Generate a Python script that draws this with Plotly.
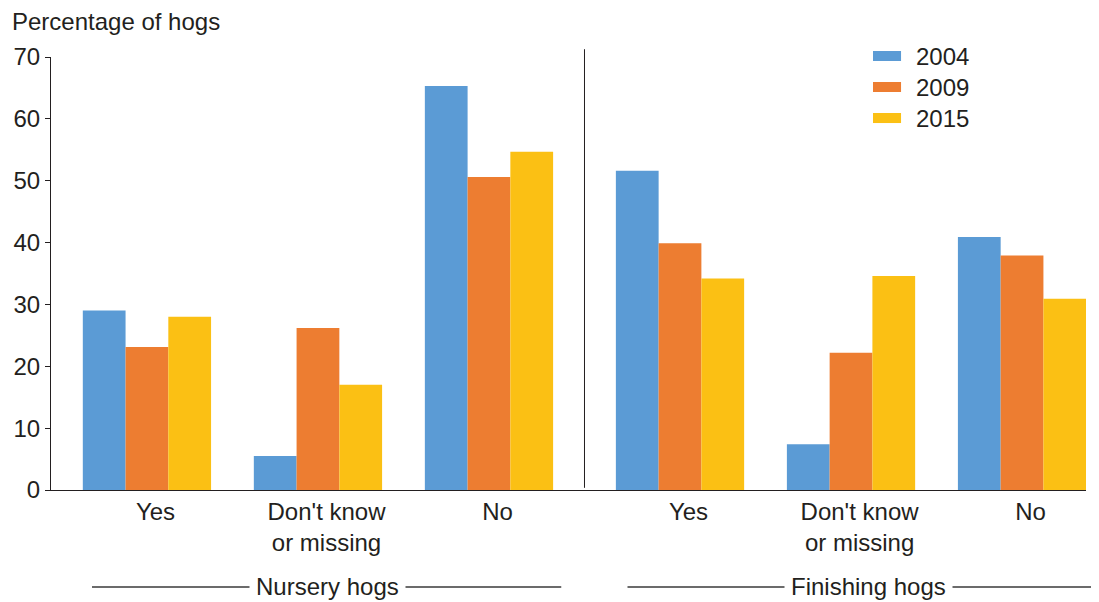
import plotly.graph_objects as go

# ---- data ----
years = ["2004", "2009", "2015"]
sections = ["Nursery hogs", "Finishing hogs"]
categories = ["Yes", "Don't know<br>or missing", "No"]
nursery_2004 = [29.0, 5.5, 65.3]
nursery_2009 = [23.1, 26.2, 50.6]
nursery_2015 = [28.0, 17.0, 54.7]
finishing_2004 = [51.6, 7.4, 40.9]
finishing_2009 = [39.9, 22.2, 37.9]
finishing_2015 = [34.2, 34.6, 30.9]
y_ticks = [0, 10, 20, 30, 40, 50, 60, 70]

colors = ["#5B9BD5", "#ED7D31", "#FBC014"]
font_family = "Liberation Sans, Arial, Helvetica, sans-serif"
text_color = "#231F20"
FS = 24

section_gap = 0.117  # extra space between the two sections (layout only)
n_cat = len(categories)
x_nursery = [i for i in range(n_cat)]
x_finishing = [n_cat + section_gap + i for i in range(n_cat)]
x_all = x_nursery + x_finishing

series = [
    nursery_2004 + finishing_2004,
    nursery_2009 + finishing_2009,
    nursery_2015 + finishing_2015,
]

fig = go.Figure()
for yr, vals, c in zip(years, series, colors):
    fig.add_trace(go.Bar(x=x_all, y=vals, name=yr, marker=dict(color=c, line=dict(width=0)),
                         showlegend=False))

# page body has an 8px margin -> shrink figure by 8px to keep the plot area aligned
fig.update_layout(
    width=1091, height=594,
    margin=dict(l=43, r=13, t=49, b=112),
    paper_bgcolor="white", plot_bgcolor="white",
    font=dict(family=font_family, size=FS, color=text_color),
    barmode="group", bargap=0.25, bargroupgap=0,
    showlegend=False,
    xaxis=dict(range=[-0.561, 5.491], showgrid=False, zeroline=False, automargin=False,
               showline=True, linecolor="#231F20", linewidth=1,
               tickvals=[x + 0.05 for x in x_all], ticktext=categories * 2,
               ticks="", tickfont=dict(size=FS)),
    yaxis=dict(range=[0, 70], tickvals=y_ticks, showgrid=False, zeroline=False, automargin=False,
               showline=True, linecolor="#231F20", linewidth=1,
               ticks="outside", ticklen=5, tickwidth=1, tickcolor="#231F20",
               tickfont=dict(size=FS)),
)

# manual legend (wide swatches)
leg_y = [1.0023, 0.9307, 0.8591]
for yr, c, ly in zip(years, colors, leg_y):
    fig.add_shape(type="rect", xref="paper", yref="paper", x0=0.7942, x1=0.8213,
                  y0=ly - 0.0116, y1=ly + 0.0116, fillcolor=c, line=dict(width=0))
    fig.add_annotation(text=yr, xref="paper", yref="paper", x=0.8338, y=ly,
                       xanchor="left", yanchor="middle", showarrow=False,
                       font=dict(size=FS))

# y axis title
fig.add_annotation(text="Percentage of hogs", xref="paper", yref="paper",
                   x=-0.0396, y=1.082, xanchor="left", yanchor="middle",
                   showarrow=False, font=dict(size=FS))

# separator between sections
sep_x = (x_nursery[-1] + x_finishing[0]) / 2
fig.add_shape(type="line", xref="x", yref="paper", x0=sep_x, x1=sep_x, y0=0.005, y1=1.018,
              line=dict(color="#231F20", width=1))

# section labels with rule lines
rules = [(0.0396, 0.493), (0.557, 1.0106)]
label_x = [0.2667, 0.7894]
for sec, (a, b), lx in zip(sections, rules, label_x):
    fig.add_shape(type="line", xref="paper", yref="paper", x0=a, x1=b, y0=-0.224, y1=-0.224,
                  line=dict(color="#3A3A3A", width=1.5))
    fig.add_annotation(text=sec, xref="paper", yref="paper", x=lx, y=-0.224,
                       xanchor="center", yanchor="middle", showarrow=False,
                       bgcolor="white", borderpad=6, font=dict(size=FS))

fig.write_html("out.html")
